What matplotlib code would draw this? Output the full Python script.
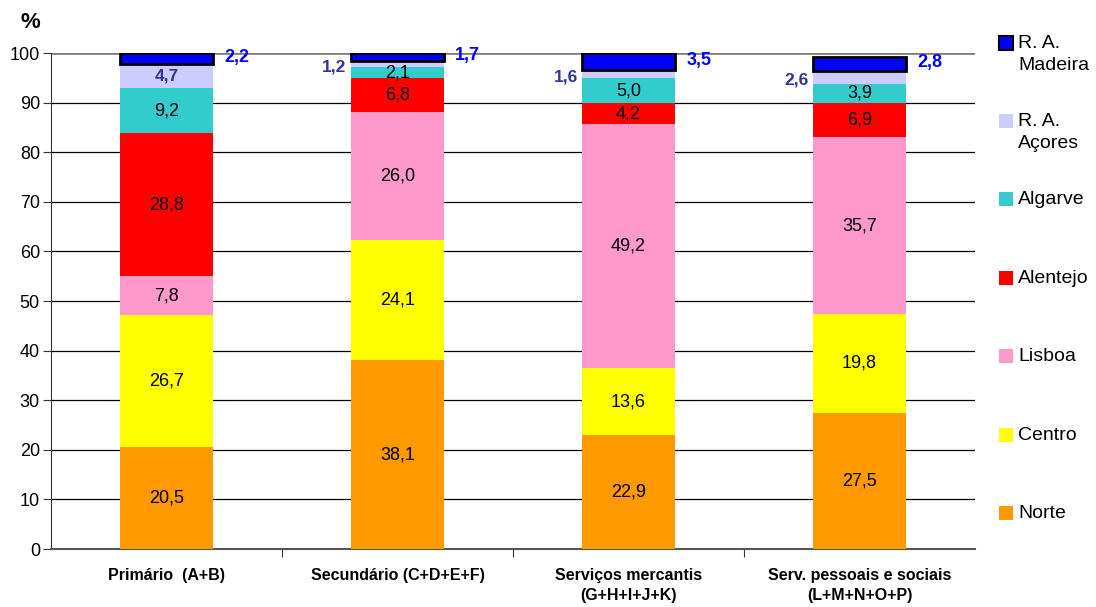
import numpy as np
import matplotlib.pyplot as plt
from matplotlib.patches import Rectangle

plt.rcParams['font.family'] = ['Liberation Sans', 'DejaVu Sans']

categories = ['Primário  (A+B)', 'Secundário (C+D+E+F)',
              'Serviços mercantis\n(G+H+I+J+K)',
              'Serv. pessoais e sociais\n(L+M+N+O+P)']
regions = ['Norte', 'Centro', 'Lisboa', 'Alentejo', 'Algarve',
           'R. A.\nAçores', 'R. A.\nMadeira']
norte = [20.5, 38.1, 22.9, 27.5]
centro = [26.7, 24.1, 13.6, 19.8]
lisboa = [7.8, 26.0, 49.2, 35.7]
alentejo = [28.8, 6.8, 4.2, 6.9]
algarve = [9.2, 2.1, 5.0, 3.9]
acores = [4.7, 1.2, 1.6, 2.6]
madeira = [2.2, 1.7, 3.5, 2.8]

series = [norte, centro, lisboa, alentejo, algarve, acores, madeira]
colors = ['#FF9900', '#FFFF00', '#FF99CC', '#FF0000', '#33CCCC',
          '#CCCCFF', '#0000FF']

fig = plt.figure(figsize=(10.96, 6.07), dpi=100)
ax = fig.add_axes([51 / 1096, 1 - 549 / 607, 924 / 1096, 496 / 607])

x = np.arange(len(categories))
w = 0.4
bottom = np.zeros(len(categories))
for i, (vals, col) in enumerate(zip(series, colors)):
    vals = np.array(vals)
    last = i == len(series) - 1
    ax.bar(x, vals, w, bottom=bottom, color=col, zorder=3,
           edgecolor='black' if last else 'none',
           linewidth=2 if last else 0)
    for j, v in enumerate(vals):
        yc = bottom[j] + v / 2
        txt = f'{v:.1f}'.replace('.', ',')
        if last:
            ax.text(x[j] + w / 2 + 0.05, yc + 0.3, txt, color='#0000FF',
                    fontsize=13, fontweight='bold', ha='left', va='center',
                    zorder=4)
        elif i == 5:
            if j == 0:
                ax.text(x[j], yc, txt, color='#333399', fontsize=12.5,
                        fontweight='bold', ha='center', va='center', zorder=4)
            else:
                ax.text(x[j] - w / 2 - 0.02, yc - 0.6, txt, color='#333399',
                        fontsize=12.5, fontweight='bold', ha='right',
                        va='center', zorder=4)
        else:
            ax.text(x[j], yc, txt, color='black', fontsize=13,
                    ha='center', va='center', zorder=4)
    bottom += vals

ax.set_xlim(-0.5, len(categories) - 0.5)
ax.set_ylim(0, 100)
ax.set_yticks(np.arange(0, 101, 10))
ax.tick_params(axis='y', labelsize=13, length=6, pad=2, direction='out',
               color='#333333')
for y in range(10, 100, 10):
    ax.axhline(y, color='black', lw=0.9, zorder=1)
ax.axhline(100, color='#808080', lw=2, zorder=1)

ax.set_xticks(np.arange(1, len(categories)) - 0.5)
ax.set_xticklabels([])
ax.tick_params(axis='x', length=6, direction='out', color='#333333')
for j, c in enumerate(categories):
    ax.text(x[j], -3.8, c, ha='center', va='top', fontsize=11.5,
            fontweight='bold', linespacing=1.45)

for s in ['top', 'right']:
    ax.spines[s].set_visible(False)
ax.spines['left'].set_color('#333333')
ax.spines['bottom'].set_color('#555555')
ax.spines['bottom'].set_linewidth(1.5)

fig.text(30 / 1096, 1 - 22 / 607, '%', fontsize=16, fontweight='bold',
         ha='center', va='center')

# legend, top entry first
leg_y = [43, 121, 199, 278, 356, 435, 513]
for k, ypx in enumerate(leg_y):
    idx = len(regions) - 1 - k
    sq = 14
    fig.add_artist(Rectangle((999 / 1096, 1 - (ypx + sq / 2) / 607),
                             sq / 1096, sq / 607, transform=fig.transFigure,
                             facecolor=colors[idx],
                             edgecolor='black' if idx == 6 else 'none',
                             linewidth=1.5))
    fig.text(1018 / 1096, 1 - (ypx - 8) / 607, regions[idx], fontsize=14,
             ha='left', va='top', linespacing=1.35)

fig.savefig('out.png', dpi=100)
